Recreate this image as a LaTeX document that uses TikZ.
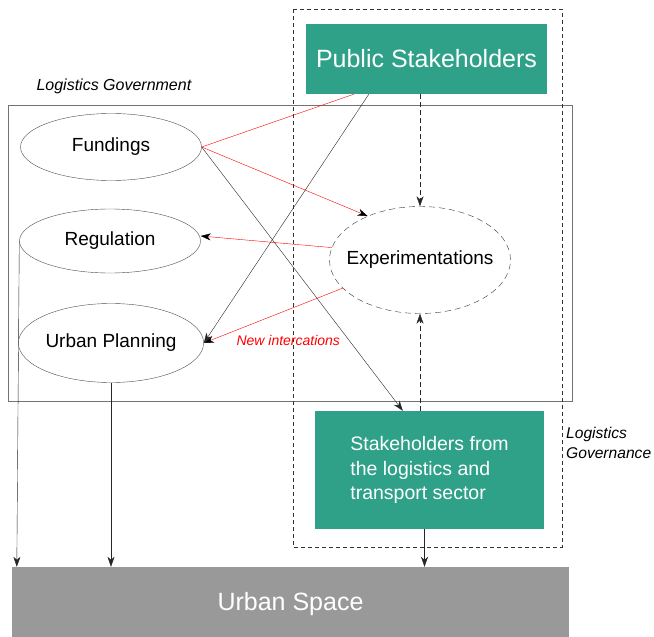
\documentclass[tikz,border=0pt]{standalone}
\usepackage{fontspec}
\setmainfont{Liberation Sans}
\usetikzlibrary{shapes.geometric,arrows.meta}
\definecolor{teal}{RGB}{46,161,136}
\definecolor{spacegray}{RGB}{153,153,153}
\begin{document}
\begin{tikzpicture}[x = 1pt, y = -1pt,
	oval/.style = {ellipse, draw = black!70, inner sep = 0pt, font = \fontsize{19}{23}\selectfont},
	actor/.style = {rectangle, fill = teal, text = white, inner sep = 0pt},
	link/.style = {draw = black!85, -{Stealth[length = 10pt, width = 7pt, inset = 3pt]}},
	redlink/.style = {draw = red, -{Stealth[length = 10pt, width = 7pt, inset = 3pt, color = black]}},
	dlink/.style = {draw = black!85, dash pattern = on 5pt off 3pt, -{Stealth[length = 10pt, width = 7pt, inset = 3pt]}}]
	\useasboundingbox (0,0) rectangle (654,637);
	\draw[black!55] (8,105) rectangle (572,401);
	\draw[black!80, dash pattern = on 4pt off 3pt] (293,9) rectangle (562,547);
	\node[anchor = west, font = \fontsize{16}{19}\selectfont\itshape] (LGT) at (33,86) {Logistics Government};
	\node[anchor = west, inner sep = 0pt, align = left, font = \fontsize{15.6}{20}\selectfont\itshape] (LGV) at (566,443) {Logistics\\Governance};
	\node[actor, minimum width = 241pt, minimum height = 70pt, font = \fontsize{25}{30}\selectfont] (PS) at (426.5,59) {Public Stakeholders};
	\node[actor, minimum width = 229pt, minimum height = 118pt, align = left, font = \fontsize{19.5}{24.5}\selectfont] (STK) at (429.5,470) {Stakeholders from\\the logistics and\\transport sector};
	\node[actor, fill = spacegray, minimum width = 557pt, minimum height = 74pt, font = \fontsize{25}{30}\selectfont] (US) at (290.5,604) {Urban Space};
	\node[oval, minimum width = 181pt, minimum height = 67pt] (FUND) at (111,147) {Fundings};
	\node[oval, minimum width = 181pt, minimum height = 64pt] (REG) at (110,241) {Regulation};
	\node[oval, minimum width = 181pt, minimum height = 79pt] (UP) at (111,343) {Urban Planning};
	\node[oval, draw = black!80, dash pattern = on 6pt off 4pt, inner xsep = -12pt, minimum width = 181pt, minimum height = 107pt] (EXP) at (420,260) {Experimentations};
	\node[anchor = west, text = red, font = \fontsize{14}{17}\selectfont\itshape] (NEW) at (233,340) {New intercations};
	\draw[red] ([xshift = 48pt]PS.south west) -- (FUND.east);
	\draw[redlink] (FUND.east) -- (EXP.140);
	\draw[redlink] (EXP.172) -- ([yshift = 5pt]REG.east);
	\draw[redlink] (EXP.200) -- (UP.east);
	\draw[link] ([xshift = 63pt]PS.south west) -- (UP.east);
	\draw[link] (FUND.east) -- ([xshift = 88pt]STK.north west);
	\draw[dlink] (EXP.north |- PS.south) -- (EXP.north);
	\draw[dlink] (EXP.south |- STK.north) -- (EXP.south);
	\draw[link] (REG.west) -- ([xshift = 5pt]US.north west);
	\draw[link] (UP.south) -- (UP.south |- US.north);
	\draw[link] ([xshift = -5pt]STK.south) -- ([xshift = -5pt]STK.south |- US.north);
\end{tikzpicture}
\end{document}
